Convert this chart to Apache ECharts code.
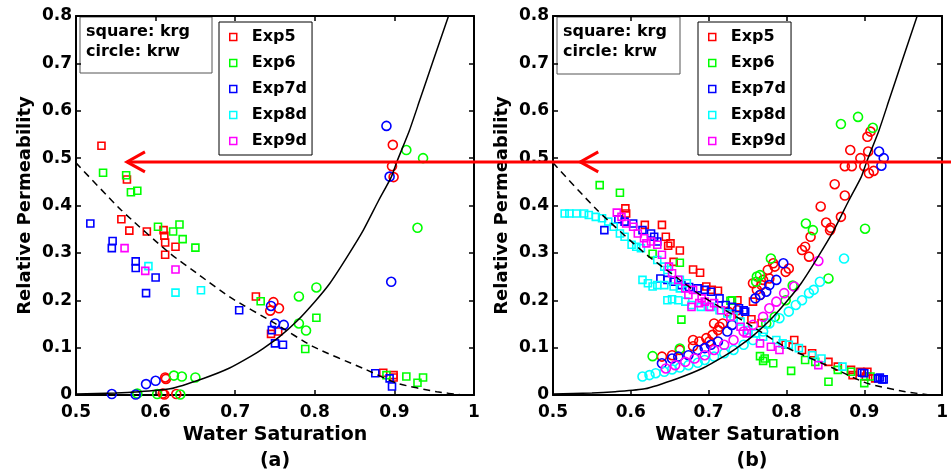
<!DOCTYPE html>
<html>
<head>
<meta charset="utf-8">
<script src="https://cdn.jsdelivr.net/npm/echarts@6/dist/echarts.min.js"></script>
<style>
html, body { margin: 0; padding: 0; background: #fff; }
#main { width: 951px; height: 473px; }
</style>
</head>
<body>
<div id="main"></div>
<script>
// axis ranges / ticks
var xMin = 0.5, xMax = 1, xStep = 0.1;
var yMin = 0, yMax = 0.8, yStep = 0.1;
var expNames = ['Exp5', 'Exp6', 'Exp7d', 'Exp8d', 'Exp9d'];
var expColors = ['#ff0000', '#00ff00', '#0000ff', '#00ffff', '#ff00ff'];

// model curves
var krwCurve = [[0.50,0.002],[0.55,0.004],[0.58,0.007],[0.618,0.013],[0.66,0.035],[0.693,0.057],[0.72,0.082],[0.735,0.098],[0.755,0.122],[0.777,0.155],[0.80,0.197],[0.819,0.236],[0.84,0.290],[0.861,0.348],[0.88,0.410],[0.896,0.460],[0.903,0.492],[0.919,0.559],[0.932,0.623],[0.949,0.707],[0.968,0.80]];
var krgCurve = [[0.50,0.490],[0.557,0.390],[0.618,0.299],[0.655,0.253],[0.693,0.207],[0.75,0.151],[0.798,0.102],[0.861,0.056],[0.903,0.025],[0.953,0.007],[0.985,0.0]];

// panel (a) : squares = krg, circles = krw
var aExp5Krg = [[0.532,0.526],[0.564,0.455],[0.557,0.371],[0.567,0.347],[0.589,0.345],[0.610,0.348],[0.611,0.336],[0.612,0.322],[0.625,0.313],[0.612,0.296],[0.726,0.208],[0.745,0.129],[0.754,0.134],[0.886,0.047],[0.899,0.042],[0.899,0.037]];
var aExp5Krw = [[0.898,0.528],[0.897,0.483],[0.899,0.460],[0.748,0.196],[0.744,0.178],[0.755,0.183],[0.612,0.037],[0.613,0.034],[0.611,0.001],[0.626,0.002],[0.609,0.003]];
var aExp6Krg = [[0.534,0.469],[0.563,0.464],[0.569,0.428],[0.577,0.431],[0.603,0.355],[0.622,0.345],[0.630,0.360],[0.634,0.329],[0.650,0.311],[0.732,0.198],[0.802,0.163],[0.788,0.097],[0.890,0.042],[0.915,0.039],[0.929,0.026],[0.936,0.037]];
var aExp6Krw = [[0.915,0.517],[0.936,0.500],[0.929,0.353],[0.802,0.227],[0.780,0.208],[0.780,0.151],[0.789,0.136],[0.577,0.003],[0.623,0.041],[0.633,0.039],[0.650,0.037],[0.602,0.002],[0.631,0.001]];
var aExp7Krg = [[0.518,0.362],[0.546,0.325],[0.545,0.310],[0.575,0.282],[0.575,0.268],[0.600,0.248],[0.588,0.215],[0.705,0.179],[0.746,0.137],[0.750,0.109],[0.760,0.106],[0.876,0.046],[0.894,0.035],[0.897,0.018]];
var aExp7Krw = [[0.890,0.568],[0.894,0.461],[0.896,0.239],[0.745,0.188],[0.750,0.151],[0.761,0.148],[0.545,0.002],[0.575,0.001],[0.588,0.023],[0.600,0.030]];
var aExp8Krg = [[0.591,0.272],[0.625,0.216],[0.657,0.221]];
var aExp8Krw = [];
var aExp9Krg = [[0.561,0.310],[0.587,0.262],[0.625,0.265]];
var aExp9Krw = [];

// panel (b)
var bExp5Krg = [[0.593,0.394],[0.594,0.383],[0.618,0.359],[0.640,0.359],[0.645,0.334],[0.651,0.320],[0.648,0.315],[0.663,0.305],[0.655,0.281],[0.680,0.265],[0.689,0.258],[0.697,0.229],[0.704,0.222],[0.712,0.220],[0.737,0.200],[0.757,0.197],[0.739,0.170],[0.755,0.160],[0.768,0.152],[0.810,0.116],[0.799,0.106],[0.820,0.095],[0.833,0.088],[0.854,0.070],[0.866,0.060],[0.883,0.053],[0.885,0.042],[0.895,0.049],[0.902,0.039],[0.904,0.049],[0.914,0.035]];
var bExp5Krw = [[0.640,0.081],[0.653,0.084],[0.663,0.095],[0.680,0.103],[0.688,0.113],[0.697,0.120],[0.705,0.127],[0.712,0.137],[0.718,0.151],[0.725,0.176],[0.680,0.116],[0.701,0.113],[0.707,0.151],[0.714,0.144],[0.737,0.179],[0.757,0.236],[0.762,0.222],[0.770,0.243],[0.778,0.246],[0.766,0.211],[0.768,0.232],[0.776,0.264],[0.785,0.271],[0.799,0.260],[0.803,0.267],[0.783,0.278],[0.820,0.306],[0.824,0.313],[0.829,0.292],[0.831,0.334],[0.856,0.348],[0.851,0.364],[0.857,0.353],[0.870,0.376],[0.844,0.398],[0.875,0.421],[0.862,0.445],[0.875,0.483],[0.884,0.483],[0.900,0.483],[0.906,0.468],[0.912,0.473],[0.895,0.500],[0.882,0.517],[0.905,0.514],[0.904,0.545],[0.908,0.556]];
var bExp6Krg = [[0.560,0.443],[0.586,0.427],[0.628,0.298],[0.663,0.279],[0.665,0.159],[0.730,0.200],[0.728,0.199],[0.766,0.082],[0.772,0.077],[0.783,0.067],[0.770,0.072],[0.806,0.051],[0.824,0.074],[0.837,0.070],[0.854,0.028],[0.866,0.053],[0.883,0.049],[0.900,0.025],[0.908,0.039]];
var bExp6Krw = [[0.628,0.082],[0.663,0.098],[0.762,0.250],[0.766,0.253],[0.761,0.239],[0.780,0.288],[0.808,0.231],[0.799,0.200],[0.785,0.165],[0.774,0.151],[0.854,0.246],[0.825,0.362],[0.834,0.348],[0.901,0.351],[0.870,0.572],[0.892,0.587],[0.911,0.564]];
var bExp7Krg = [[0.566,0.348],[0.584,0.371],[0.592,0.366],[0.603,0.362],[0.615,0.348],[0.626,0.341],[0.630,0.334],[0.634,0.324],[0.638,0.246],[0.647,0.243],[0.655,0.239],[0.665,0.232],[0.675,0.228],[0.686,0.225],[0.695,0.222],[0.703,0.218],[0.714,0.204],[0.722,0.190],[0.730,0.186],[0.739,0.183],[0.745,0.179],[0.747,0.176],[0.897,0.047],[0.900,0.046],[0.918,0.035],[0.920,0.037],[0.923,0.033],[0.925,0.033]];
var bExp7Krw = [[0.640,0.067],[0.653,0.077],[0.661,0.081],[0.674,0.084],[0.686,0.095],[0.695,0.099],[0.703,0.106],[0.712,0.113],[0.724,0.134],[0.730,0.148],[0.760,0.204],[0.766,0.211],[0.774,0.218],[0.778,0.232],[0.787,0.243],[0.796,0.278],[0.919,0.514],[0.925,0.500],[0.922,0.484]];
var bExp8Krg = [[0.515,0.383],[0.521,0.383],[0.530,0.383],[0.540,0.383],[0.546,0.380],[0.555,0.376],[0.563,0.373],[0.571,0.366],[0.578,0.355],[0.586,0.341],[0.592,0.334],[0.601,0.317],[0.607,0.313],[0.613,0.310],[0.634,0.285],[0.643,0.271],[0.647,0.264],[0.663,0.243],[0.672,0.236],[0.615,0.243],[0.622,0.236],[0.628,0.229],[0.634,0.232],[0.643,0.232],[0.655,0.229],[0.663,0.225],[0.647,0.200],[0.653,0.202],[0.661,0.200],[0.670,0.197],[0.678,0.190],[0.690,0.186],[0.703,0.186],[0.714,0.179],[0.724,0.172],[0.732,0.165],[0.741,0.155],[0.751,0.137],[0.760,0.130],[0.770,0.123],[0.787,0.116],[0.795,0.109],[0.803,0.106],[0.816,0.099],[0.833,0.084],[0.845,0.077],[0.872,0.060]];
var bExp8Krw = [[0.615,0.039],[0.624,0.042],[0.632,0.046],[0.643,0.049],[0.653,0.054],[0.663,0.058],[0.674,0.063],[0.686,0.068],[0.695,0.074],[0.707,0.081],[0.720,0.088],[0.732,0.095],[0.745,0.106],[0.757,0.116],[0.770,0.134],[0.778,0.151],[0.791,0.162],[0.803,0.176],[0.812,0.190],[0.820,0.200],[0.829,0.215],[0.835,0.222],[0.843,0.239],[0.874,0.288]];
var bExp9Krg = [[0.582,0.385],[0.588,0.376],[0.594,0.362],[0.603,0.355],[0.609,0.341],[0.617,0.331],[0.620,0.320],[0.626,0.324],[0.634,0.317],[0.640,0.296],[0.649,0.271],[0.653,0.257],[0.661,0.243],[0.670,0.225],[0.674,0.211],[0.678,0.186],[0.680,0.222],[0.688,0.194],[0.691,0.204],[0.695,0.197],[0.701,0.186],[0.707,0.194],[0.716,0.179],[0.728,0.165],[0.741,0.144],[0.749,0.130],[0.766,0.109],[0.780,0.102],[0.791,0.095],[0.841,0.063]];
var bExp9Krw = [[0.645,0.056],[0.657,0.063],[0.670,0.070],[0.682,0.077],[0.695,0.084],[0.707,0.095],[0.720,0.106],[0.732,0.116],[0.745,0.134],[0.757,0.148],[0.770,0.165],[0.778,0.183],[0.787,0.197],[0.797,0.215],[0.810,0.229],[0.841,0.283]];

// red arrow annotation
var arrowY = 0.492, arrowTipA = 0.564, arrowTipB = 0.535;

var panelA = [[aExp5Krg, aExp5Krw], [aExp6Krg, aExp6Krw], [aExp7Krg, aExp7Krw], [aExp8Krg, aExp8Krw], [aExp9Krg, aExp9Krw]];
var panelB = [[bExp5Krg, bExp5Krw], [bExp6Krg, bExp6Krw], [bExp7Krg, bExp7Krw], [bExp8Krg, bExp8Krw], [bExp9Krg, bExp9Krw]];

var font = '"DejaVu Sans", sans-serif';
var sqIcon = 'path://M0,0H7V7H0Z';

function xAxisCfg(g, top) {
    return {
        type: 'value', gridIndex: g, position: top ? 'top' : 'bottom',
        min: xMin, max: xMax, interval: xStep,
        axisLine: { onZero: false, lineStyle: { color: '#000', width: 2 } },
        axisTick: { inside: true, length: 5, lineStyle: { color: '#000', width: 1.5 } },
        axisLabel: { show: !top, color: '#000', fontFamily: font, fontWeight: 'bold', fontSize: 17, margin: 9 },
        splitLine: { show: false },
        name: top ? '' : 'Water Saturation', nameLocation: 'middle', nameGap: 30,
        nameTextStyle: { color: '#000', fontFamily: font, fontWeight: 'bold', fontSize: 19 }
    };
}
function yAxisCfg(g, right) {
    return {
        type: 'value', gridIndex: g, position: right ? 'right' : 'left',
        min: yMin, max: yMax, interval: yStep,
        axisLine: { show: true, onZero: false, lineStyle: { color: '#000', width: 2 } },
        axisTick: { show: true, inside: true, length: 5, lineStyle: { color: '#000', width: 1.5 } },
        axisLabel: { show: !right, color: '#000', fontFamily: font, fontWeight: 'bold', fontSize: 17, margin: 4 },
        splitLine: { show: false },
        name: right ? '' : 'Relative Permeability', nameLocation: 'middle', nameGap: 42,
        nameTextStyle: { color: '#000', fontFamily: font, fontWeight: 'bold', fontSize: 18 }
    };
}

var series = [];
function addPanel(g, sets) {
    series.push({
        type: 'line', xAxisIndex: g * 2, yAxisIndex: g * 2, data: krwCurve,
        showSymbol: false, smooth: 0.2, silent: true,
        lineStyle: { color: '#000', width: 1.5 }, z: 3
    });
    series.push({
        type: 'line', xAxisIndex: g * 2, yAxisIndex: g * 2, data: krgCurve,
        showSymbol: false, smooth: 0.2, silent: true,
        lineStyle: { color: '#000', width: 1.5, type: [7, 5] }, z: 3
    });
    sets.forEach(function (s, i) {
        [['rect', 7, s[0]], ['circle', 9, s[1]]].forEach(function (m) {
            series.push({
                type: 'scatter', name: expNames[i], xAxisIndex: g * 2, yAxisIndex: g * 2,
                symbol: m[0], symbolSize: m[1], data: m[2], silent: true,
                itemStyle: { color: 'rgba(0,0,0,0)', borderColor: expColors[i], borderWidth: 1.6, opacity: 1 },
                z: 2
            });
        });
    });
}
addPanel(0, panelA);
addPanel(1, panelB);

function legendCfg(left) {
    return {
        left: left, top: 22, orient: 'vertical', selectedMode: false,
        backgroundColor: '#fff', borderColor: '#000', borderWidth: 1,
        padding: [7, 5, 6, 10], itemWidth: 27, itemHeight: 7, itemGap: 10,
        textStyle: { color: '#000', fontFamily: font, fontWeight: 'bold', fontSize: 16, lineHeight: 16 },
        data: expNames.map(function (n, i) {
            return { name: n, icon: sqIcon, itemStyle: { color: 'rgba(0,0,0,0)', borderColor: expColors[i], borderWidth: 1.5 } };
        })
    };
}

function noteBox(id, x, y, w, h) {
    return {
        type: 'group', id: id, z: 50,
        children: [
            { type: 'rect', shape: { x: x, y: y, width: w, height: h }, style: { fill: '#fff', stroke: '#555', lineWidth: 1 } },
            { type: 'text', x: x + 6, y: y + 15, style: { text: 'square: krg', font: 'bold 16px ' + font, fill: '#000', verticalAlign: 'middle' } },
            { type: 'text', x: x + 6, y: y + 35, style: { text: 'circle: krw', font: 'bold 16px ' + font, fill: '#000', verticalAlign: 'middle' } }
        ]
    };
}

var chart = echarts.init(document.getElementById('main'));
chart.setOption({
    animation: false,
    backgroundColor: '#fff',
    grid: [
        { left: 76, top: 16, width: 398, height: 379 },
        { left: 553, top: 16, width: 399, height: 379 }
    ],
    xAxis: [xAxisCfg(0, false), xAxisCfg(0, true), xAxisCfg(1, false), xAxisCfg(1, true)],
    yAxis: [yAxisCfg(0, false), yAxisCfg(0, true), yAxisCfg(1, false), yAxisCfg(1, true)],
    legend: [legendCfg(219), legendCfg(698)],
    series: series,
    graphic: [
        noteBox('noteA', 80, 17, 132, 56),
        noteBox('noteB', 557, 17, 123, 57),
        { type: 'text', id: 'labA', x: 275, y: 461, style: { text: '(a)', font: 'bold 19px ' + font, fill: '#000', align: 'center', verticalAlign: 'middle' } },
        { type: 'text', id: 'labB', x: 752, y: 461, style: { text: '(b)', font: 'bold 19px ' + font, fill: '#000', align: 'center', verticalAlign: 'middle' } }
    ]
});

// red arrow, placed through the axes' own scales
var tipA = chart.convertToPixel({ gridIndex: 0 }, [arrowTipA, arrowY]);
var tipB = chart.convertToPixel({ gridIndex: 1 }, [arrowTipB, arrowY]);
function chevron(id, p) {
    return {
        type: 'polyline', id: id, z: 100,
        shape: { points: [[p[0] + 18, p[1] - 10], [p[0], p[1]], [p[0] + 18, p[1] + 10]] },
        style: { stroke: '#ff0000', lineWidth: 3, fill: null }
    };
}
chart.setOption({
    graphic: [
        { type: 'line', id: 'redLine', z: 100, shape: { x1: tipA[0], y1: tipA[1], x2: chart.getWidth(), y2: tipA[1] }, style: { stroke: '#ff0000', lineWidth: 3 } },
        chevron('arrowA', tipA),
        chevron('arrowB', tipB)
    ]
});

window.addEventListener('resize', function () {
    chart.resize();
});
</script>
</body>
</html>
